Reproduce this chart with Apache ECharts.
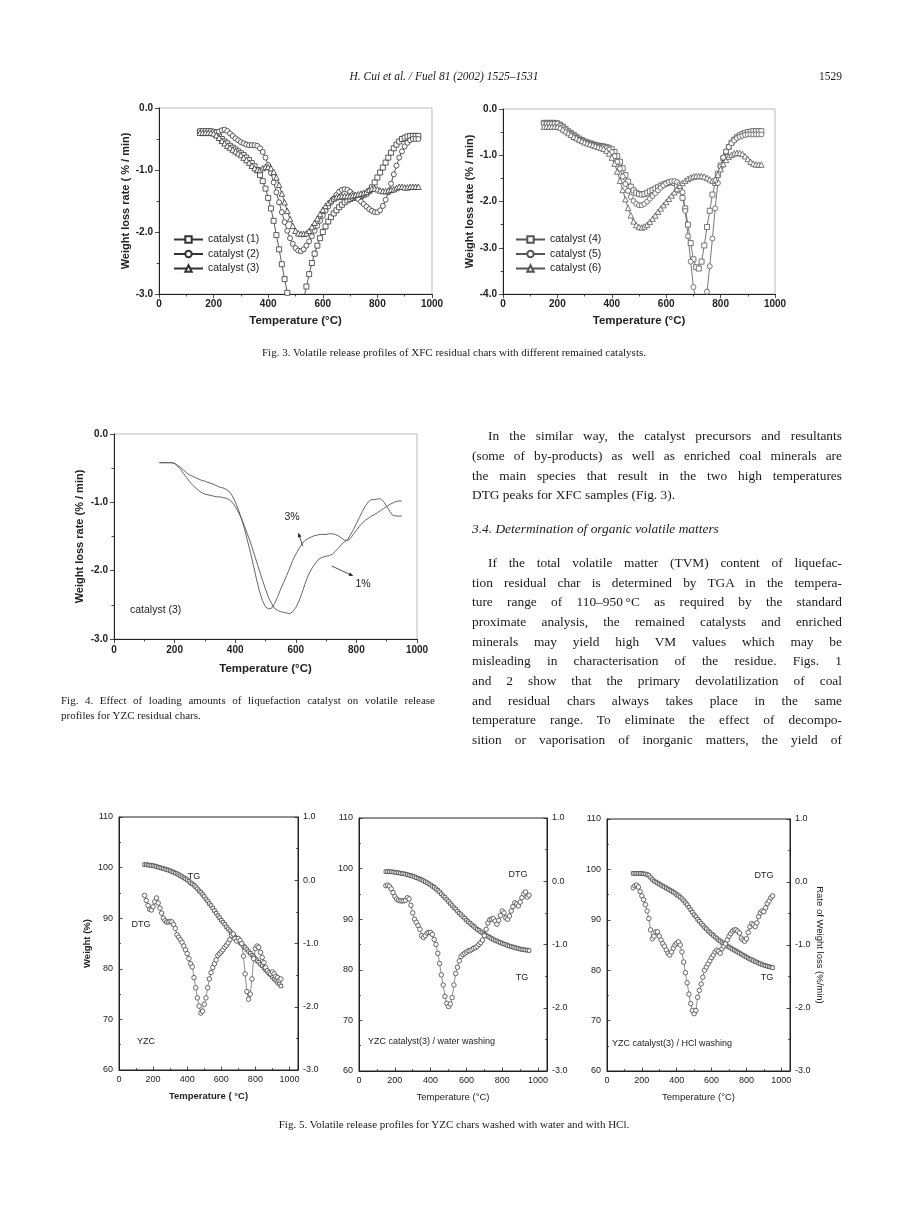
<!DOCTYPE html>
<html><head><meta charset="utf-8">
<script src="https://cdn.jsdelivr.net/npm/echarts@6/dist/echarts.min.js"></script>
<style>
html,body{margin:0;padding:0;background:#fff;}
#page{position:relative;width:920px;height:1228px;overflow:hidden;background:#fff;}
#chart{position:absolute;left:0;top:0;width:920px;height:1228px;}
.tx{position:absolute;font-family:"Liberation Serif","Times New Roman",serif;color:#1a1a1a;white-space:nowrap;}
.body{font-size:13.4px;line-height:20px;height:20px;left:472px;width:370px;}
.jl{text-align:justify;text-align-last:justify;}
.ind{text-indent:16px;}
.it{font-style:italic;}
.cap{font-size:11px;line-height:15px;height:15px;}
</style></head>
<body><div id="page"><div id="chart"></div><div id="txt"></div></div>
<script>
// ---------------- DATA ----------------
const T = [150,160,170,180,190,200,210,220,230,240,250,260,270,280,290,300,310,320,330,340,350,360,370,380,390,400,410,420,430,440,450,460,470,480,490,500,510,520,530,540,550,560,570,580,590,600,610,620,630,640,650,660,670,680,690,700,710,720,730,740,750,760,770,780,790,800,810,820,830,840,850,860,870,880,890,900,910,920,930,940,950];

// Fig. 3 (left) weight loss rate, %/min
const cat1 = [-0.38,-0.38,-0.38,-0.38,-0.38,
 -0.39,-0.42,-0.46,-0.50,-0.54,-0.57,-0.61,-0.64,-0.67,-0.70,
 -0.73,-0.76,-0.80,-0.84,-0.89,-0.94,-1.00,-1.08,-1.18,-1.30,
 -1.45,-1.62,-1.82,-2.05,-2.28,-2.52,-2.76,-2.98,-3.20,-3.38,
 -3.48,-3.45,-3.32,-3.08,-2.88,-2.68,-2.50,-2.35,-2.22,-2.10,
 -2.00,-1.91,-1.83,-1.76,-1.70,-1.65,-1.60,-1.56,-1.52,-1.49,
 -1.47,-1.45,-1.44,-1.43,-1.42,-1.40,-1.38,-1.34,-1.28,-1.20,
 -1.12,-1.04,-0.96,-0.88,-0.80,-0.72,-0.65,-0.59,-0.54,-0.50,
 -0.48,-0.46,-0.45,-0.45,-0.45,-0.45];
const cat2 = [-0.37,-0.37,-0.37,-0.37,-0.37,
 -0.38,-0.39,-0.38,-0.36,-0.35,-0.37,-0.41,-0.45,-0.49,-0.52,
 -0.55,-0.57,-0.59,-0.60,-0.60,-0.60,-0.61,-0.65,-0.71,-0.80,
 -0.92,-1.05,-1.20,-1.36,-1.52,-1.68,-1.84,-1.98,-2.10,-2.19,
 -2.26,-2.30,-2.31,-2.28,-2.22,-2.15,-2.07,-1.98,-1.90,-1.82,
 -1.74,-1.66,-1.59,-1.52,-1.46,-1.40,-1.35,-1.32,-1.31,-1.32,
 -1.35,-1.39,-1.43,-1.47,-1.51,-1.55,-1.59,-1.63,-1.66,-1.68,
 -1.68,-1.65,-1.58,-1.48,-1.36,-1.22,-1.07,-0.93,-0.80,-0.70,
 -0.62,-0.56,-0.52,-0.50,-0.50,-0.50];
const cat3 = [-0.40,-0.40,-0.40,-0.40,-0.40,
 -0.41,-0.44,-0.48,-0.53,-0.57,-0.61,-0.64,-0.67,-0.70,-0.73,
 -0.76,-0.80,-0.84,-0.88,-0.93,-0.97,-1.00,-1.00,-0.97,-0.95,
 -0.95,-0.97,-1.03,-1.12,-1.24,-1.38,-1.52,-1.66,-1.79,-1.90,
 -1.98,-2.02,-2.03,-2.03,-2.02,-1.98,-1.92,-1.85,-1.78,-1.71,
 -1.64,-1.58,-1.53,-1.49,-1.46,-1.44,-1.43,-1.42,-1.42,-1.42,
 -1.42,-1.41,-1.40,-1.39,-1.38,-1.37,-1.35,-1.32,-1.30,-1.30,
 -1.31,-1.33,-1.34,-1.34,-1.33,-1.32,-1.31,-1.29,-1.27,-1.27,
 -1.28,-1.28,-1.27,-1.27,-1.27,-1.27];
// Fig. 3 (right)
const cat4 = [-0.30,-0.30,-0.30,-0.30,-0.30,
 -0.31,-0.34,-0.38,-0.43,-0.48,-0.52,-0.56,-0.60,-0.64,-0.67,
 -0.70,-0.72,-0.74,-0.76,-0.78,-0.79,-0.80,-0.81,-0.82,-0.84,
 -0.87,-0.93,-1.02,-1.14,-1.28,-1.43,-1.57,-1.68,-1.76,-1.81,
 -1.84,-1.85,-1.84,-1.81,-1.78,-1.75,-1.72,-1.69,-1.66,-1.63,
 -1.61,-1.59,-1.58,-1.60,-1.66,-1.76,-1.92,-2.15,-2.50,-2.90,
 -3.25,-3.42,-3.45,-3.30,-2.95,-2.55,-2.20,-1.85,-1.60,-1.40,
 -1.22,-1.06,-0.93,-0.82,-0.73,-0.66,-0.61,-0.57,-0.54,-0.52,
 -0.50,-0.49,-0.48,-0.48,-0.48,-0.48];
const cat5 = [-0.32,-0.32,-0.32,-0.32,-0.32,
 -0.32,-0.36,-0.40,-0.45,-0.50,-0.54,-0.58,-0.62,-0.66,-0.69,
 -0.72,-0.74,-0.76,-0.78,-0.80,-0.81,-0.82,-0.83,-0.85,-0.88,
 -0.93,-1.02,-1.14,-1.29,-1.46,-1.62,-1.77,-1.90,-1.99,-2.05,
 -2.08,-2.08,-2.05,-2.00,-1.94,-1.88,-1.82,-1.76,-1.70,-1.65,
 -1.61,-1.58,-1.56,-1.56,-1.58,-1.63,-1.80,-2.20,-2.75,-3.30,
 -3.85,-4.15,-4.30,-4.35,-4.30,-3.95,-3.40,-2.80,-2.15,-1.60,
 -1.25,-1.05,-0.92,-0.82,-0.74,-0.68,-0.63,-0.60,-0.58,-0.56,
 -0.55,-0.55,-0.55,-0.55,-0.55,-0.55];
const cat6 = [-0.38,-0.38,-0.38,-0.38,-0.38,
 -0.38,-0.40,-0.44,-0.48,-0.52,-0.56,-0.60,-0.63,-0.66,-0.69,
 -0.72,-0.74,-0.76,-0.78,-0.80,-0.82,-0.84,-0.86,-0.90,-0.96,
 -1.05,-1.18,-1.35,-1.55,-1.75,-1.95,-2.14,-2.30,-2.43,-2.51,
 -2.55,-2.56,-2.54,-2.50,-2.44,-2.37,-2.30,-2.22,-2.15,-2.08,
 -2.01,-1.94,-1.87,-1.80,-1.73,-1.66,-1.60,-1.55,-1.51,-1.48,
 -1.46,-1.45,-1.45,-1.45,-1.46,-1.49,-1.52,-1.55,-1.52,-1.42,
 -1.30,-1.19,-1.10,-1.03,-0.99,-0.96,-0.95,-0.95,-0.97,-1.02,
 -1.08,-1.14,-1.18,-1.20,-1.20,-1.20];
// Fig. 4
const load3 = [-0.42,-0.42,-0.42,-0.42,-0.42,
 -0.43,-0.46,-0.49,-0.53,-0.57,-0.60,-0.62,-0.64,-0.66,-0.68,
 -0.69,-0.71,-0.72,-0.74,-0.76,-0.78,-0.79,-0.81,-0.84,-0.90,
 -0.99,-1.10,-1.23,-1.38,-1.55,-1.73,-1.92,-2.12,-2.30,-2.44,
 -2.53,-2.56,-2.55,-2.48,-2.38,-2.27,-2.17,-2.07,-1.96,-1.85,
 -1.76,-1.68,-1.61,-1.56,-1.53,-1.51,-1.49,-1.48,-1.47,-1.47,
 -1.47,-1.46,-1.46,-1.47,-1.49,-1.52,-1.55,-1.56,-1.53,-1.47,
 -1.41,-1.35,-1.30,-1.26,-1.23,-1.20,-1.18,-1.15,-1.12,-1.09,
 -1.06,-1.03,-1.01,-0.99,-0.98,-0.98];
const load1 = [-0.42,-0.42,-0.42,-0.42,-0.42,
 -0.43,-0.47,-0.52,-0.58,-0.64,-0.70,-0.75,-0.79,-0.83,-0.86,
 -0.88,-0.89,-0.90,-0.91,-0.92,-0.92,-0.93,-0.94,-0.96,-1.00,
 -1.06,-1.14,-1.23,-1.34,-1.46,-1.58,-1.72,-1.86,-2.00,-2.14,
 -2.27,-2.39,-2.48,-2.55,-2.58,-2.60,-2.61,-2.62,-2.63,-2.60,
 -2.54,-2.45,-2.33,-2.20,-2.08,-1.99,-1.92,-1.86,-1.82,-1.80,
 -1.79,-1.78,-1.76,-1.72,-1.67,-1.62,-1.58,-1.55,-1.48,-1.40,
 -1.31,-1.22,-1.13,-1.05,-0.99,-0.96,-0.96,-0.95,-0.95,-0.99,
 -1.06,-1.13,-1.19,-1.20,-1.20,-1.20];
// Fig. 5  TG (weight %) and DTG (%/min)
const tgYZC = [100.6,100.6,100.5,100.5,100.4,
 100.4,100.3,100.2,100.1,100.0,99.9,99.8,99.7,99.6,99.5,
 99.4,99.2,99.1,98.9,98.8,98.6,98.4,98.2,98.0,97.8,
 97.6,97.3,97.0,96.8,96.5,96.2,95.8,95.4,95.1,94.7,
 94.3,93.8,93.4,92.9,92.5,92.0,91.5,91.0,90.5,90.1,
 89.6,89.2,88.8,88.3,87.9,87.5,87.1,86.7,86.3,86.0,
 85.6,85.2,84.9,84.5,84.2,83.8,83.4,83.1,82.7,82.4,
 82.0,81.6,81.3,80.9,80.6,80.2,79.8,79.5,79.1,78.8,
 78.4,78.0,77.7,77.3,77.0,76.6];
const dtgYZC = [-0.24,-0.32,-0.40,-0.46,-0.47,
 -0.42,-0.34,-0.28,-0.36,-0.44,-0.52,-0.60,-0.64,-0.66,-0.66,
 -0.65,-0.66,-0.70,-0.76,-0.86,-0.90,-0.94,-0.98,-1.04,-1.10,
 -1.16,-1.24,-1.32,-1.37,-1.54,-1.70,-1.86,-1.99,-2.10,-2.07,
 -1.96,-1.86,-1.70,-1.56,-1.46,-1.38,-1.32,-1.26,-1.19,-1.16,
 -1.13,-1.10,-1.06,-1.03,-0.99,-0.94,-0.87,-0.85,-0.92,-0.96,
 -0.92,-0.95,-1.00,-1.20,-1.48,-1.76,-1.88,-1.80,-1.56,-1.24,
 -1.08,-1.04,-1.06,-1.14,-1.22,-1.30,-1.38,-1.43,-1.46,-1.48,
 -1.45,-1.48,-1.52,-1.54,-1.58,-1.56];
const tgWater = [99.4,99.4,99.4,99.4,99.3,
 99.3,99.2,99.2,99.1,99.0,99.0,98.9,98.8,98.7,98.6,
 98.5,98.4,98.2,98.1,97.9,97.8,97.6,97.4,97.2,97.0,
 96.8,96.5,96.3,96.0,95.7,95.4,95.0,94.6,94.3,93.9,
 93.5,93.1,92.7,92.3,92.0,91.6,91.2,90.9,90.5,90.2,
 89.8,89.5,89.2,88.9,88.6,88.3,88.0,87.8,87.5,87.3,
 87.0,86.8,86.6,86.4,86.2,86.0,85.8,85.7,85.5,85.4,
 85.2,85.1,85.0,84.8,84.7,84.6,84.5,84.4,84.3,84.2,
 84.1,84.0,84.0,83.9,83.9,83.8];
const dtgWater = [-0.07,-0.06,-0.08,-0.12,-0.18,
 -0.24,-0.28,-0.30,-0.31,-0.31,-0.31,-0.30,-0.26,-0.28,-0.38,
 -0.50,-0.60,-0.65,-0.70,-0.76,-0.86,-0.89,-0.86,-0.82,-0.81,
 -0.81,-0.84,-0.92,-1.00,-1.14,-1.30,-1.48,-1.64,-1.82,-1.93,
 -1.98,-1.94,-1.84,-1.64,-1.46,-1.36,-1.26,-1.19,-1.16,-1.14,
 -1.12,-1.10,-1.10,-1.08,-1.06,-1.05,-1.03,-1.00,-0.97,-0.93,
 -0.86,-0.76,-0.66,-0.61,-0.60,-0.59,-0.63,-0.68,-0.62,-0.54,
 -0.47,-0.50,-0.58,-0.60,-0.55,-0.47,-0.40,-0.34,-0.36,-0.39,
 -0.33,-0.26,-0.20,-0.17,-0.25,-0.22];
const tgHCl = [99.2,99.2,99.2,99.2,99.2,
 99.2,99.1,99.1,99.0,98.8,98.4,98.0,97.7,97.5,97.3,
 97.1,96.9,96.7,96.5,96.3,96.1,95.9,95.7,95.5,95.3,
 95.0,94.8,94.5,94.2,93.8,93.4,93.0,92.5,92.0,91.5,
 91.0,90.6,90.1,89.7,89.3,88.9,88.5,88.2,87.8,87.5,
 87.2,86.9,86.6,86.3,86.0,85.8,85.5,85.3,85.0,84.8,
 84.6,84.4,84.2,84.0,83.8,83.6,83.4,83.2,83.0,82.8,
 82.6,82.4,82.2,82.1,81.9,81.7,81.6,81.4,81.3,81.1,
 81.0,80.9,80.8,80.7,80.6,80.5];
const dtgHCl = [-0.09,-0.06,-0.05,-0.08,-0.15,
 -0.22,-0.28,-0.36,-0.46,-0.58,-0.76,-0.90,-0.86,-0.79,-0.79,
 -0.86,-0.92,-0.98,-1.02,-1.08,-1.13,-1.16,-1.11,-1.05,-1.00,
 -0.97,-0.95,-1.00,-1.11,-1.27,-1.44,-1.60,-1.78,-1.93,-2.04,
 -2.09,-2.04,-1.83,-1.72,-1.62,-1.51,-1.40,-1.35,-1.30,-1.25,
 -1.20,-1.16,-1.11,-1.08,-1.10,-1.13,-1.06,-1.02,-0.98,-0.92,
 -0.86,-0.82,-0.78,-0.76,-0.76,-0.78,-0.81,-0.89,-0.92,-0.94,
 -0.90,-0.80,-0.71,-0.66,-0.68,-0.71,-0.65,-0.55,-0.49,-0.46,
 -0.47,-0.41,-0.34,-0.30,-0.25,-0.22];

// ---------------- TEXT ----------------
const SERIF_LINES = [
 {t:'H. Cui et al. / Fuel 81 (2002) 1525–1531', cls:'it', y:76, x:444, fs:11.5, center:true},
 {t:'1529', y:76, right:842, fs:11.5},
 {t:'Fig. 3. Volatile release profiles of XFC residual chars with different remained catalysts.', y:352, x:454, fs:11, center:true},
 {t:'Fig. 5. Volatile release profiles for YZC chars washed with water and with HCl.', y:1124, x:454, fs:11, center:true}
];
const para1 = ['In the similar way, the catalyst precursors and resultants',
 '(some of by-products) as well as enriched coal minerals are',
 'the main species that result in the two high temperatures',
 'DTG peaks for XFC samples (Fig. 3).'];
const para1Y = [436,456,476,495];
const heading = '3.4. Determination of organic volatile matters';
const para2 = ['If the total volatile matter (TVM) content of liquefac-',
 'tion residual char is determined by TGA in the tempera-',
 'ture range of 110–950\u2009°C as required by the standard',
 'proximate analysis, the remained catalysts and enriched',
 'minerals may yield high VM values which may be',
 'misleading in characterisation of the residue. Figs. 1',
 'and 2 show that the primary devolatilization of coal',
 'and residual chars always takes place in the same',
 'temperature range. To eliminate the effect of decompo-',
 'sition or vaporisation of inorganic matters, the yield of'];
const para2Y = [563,583,602,622,642,661,681,701,720,740];
const fig4Cap = ['Fig. 4. Effect of loading amounts of liquefaction catalyst on volatile release',
 'profiles for YZC residual chars.'];
const fig4CapY = [700,715];

const txt = document.getElementById('txt');
function addDiv(html, cls, style){ const d=document.createElement('div'); d.className='tx '+(cls||''); d.textContent=html; Object.assign(d.style, style); txt.appendChild(d); return d; }
SERIF_LINES.forEach(l=>{
  const st={fontSize:l.fs+'px', lineHeight:'16px', top:(l.y-8)+'px'};
  if(l.center){ st.left=(l.x-300)+'px'; st.width='600px'; st.textAlign='center'; }
  else if(l.right){ st.left=(l.right-100)+'px'; st.width='100px'; st.textAlign='right'; }
  addDiv(l.t, l.cls, st);
});
para1.forEach((s,i)=>addDiv(s, 'body '+(i<para1.length-1?'jl ':'')+(i===0?'ind':''), {top:(para1Y[i]-10)+'px'}));
addDiv(heading, 'body it', {top:(529-10)+'px'});
para2.forEach((s,i)=>addDiv(s, 'body jl '+(i===0?'ind':''), {top:(para2Y[i]-10)+'px'}));
fig4Cap.forEach((s,i)=>addDiv(s, 'cap '+(i===0?'jl':''), {top:(fig4CapY[i]-7.5)+'px', left:'61px', width:'374px'}));

// ---------------- CHART ----------------
const SANS='"Liberation Sans", Arial, Helvetica, sans-serif';
const INK='#222';
const pair=(ys)=>T.map((x,i)=>[x,ys[i]]);
const fmt1=v=>v.toFixed(1);

function axX3(g, gap, margin){
  return {gridIndex:g,type:'value',min:0,max:1000,interval:200,
    name:'Temperature (°C)',nameLocation:'middle',nameGap:gap,
    nameTextStyle:{fontFamily:SANS,fontWeight:'bold',fontSize:11.5,color:INK},
    axisLine:{onZero:false,lineStyle:{color:INK,width:1}},
    axisTick:{length:4,lineStyle:{color:INK,width:0.8}},
    minorTick:{show:true,splitNumber:2,length:2.5,lineStyle:{color:INK,width:0.8}},
    axisLabel:{fontFamily:SANS,fontWeight:'bold',fontSize:10,color:INK,margin:margin,formatter:v=>String(v)},
    splitLine:{show:false}};
}
function axY3(g, min, name, gap){
  return {gridIndex:g,type:'value',min:min,max:0,interval:1,
    name:name,nameLocation:'middle',nameGap:gap,
    nameTextStyle:{fontFamily:SANS,fontWeight:'bold',fontSize:11,color:INK},
    axisLine:{onZero:false,lineStyle:{color:INK,width:1}},
    axisTick:{length:4,lineStyle:{color:INK,width:0.8}},
    minorTick:{show:true,splitNumber:2,length:2.5,lineStyle:{color:INK,width:0.8}},
    axisLabel:{fontFamily:SANS,fontWeight:'bold',fontSize:10,color:INK,margin:6,formatter:fmt1},
    splitLine:{show:false}};
}
function axX5(g, bold){
  return {gridIndex:g,type:'value',min:0,max:1050,interval:200,
    name: bold?'Temperature ( °C)':'Temperature (°C)',nameLocation:'middle',nameGap:21,
    nameTextStyle:{fontFamily:SANS,fontWeight:bold?'bold':'normal',fontSize:9.5,color:INK},
    axisLine:{onZero:false,lineStyle:{color:INK,width:1}},
    axisTick:{inside:true,length:3.5,lineStyle:{color:INK,width:0.8}},
    minorTick:{show:true,splitNumber:2,length:2,lineStyle:{color:INK,width:0.7}},
    axisLabel:{fontFamily:SANS,fontSize:9,color:INK,margin:5,formatter:v=>(v%200===0?String(v):'')},
    splitLine:{show:false}};
}
function axYL5(g, name){
  return {gridIndex:g,type:'value',min:60,max:110,interval:10,position:'left',
    name:name||'',nameLocation:'middle',nameGap:27,
    nameTextStyle:{fontFamily:SANS,fontWeight:'bold',fontSize:9.5,color:INK},
    axisLine:{onZero:false,lineStyle:{color:INK,width:1}},
    axisTick:{inside:true,length:3.5,lineStyle:{color:INK,width:0.8}},
    minorTick:{show:true,splitNumber:2,length:2,lineStyle:{color:INK,width:0.7}},
    axisLabel:{fontFamily:SANS,fontSize:9,color:INK,margin:6},
    splitLine:{show:false}};
}
function axYR5(g, name){
  return {gridIndex:g,type:'value',min:-3,max:1,interval:1,position:'right',
    name:name||'',nameLocation:'middle',nameGap:24,nameRotate:-90,
    nameTextStyle:{fontFamily:SANS,fontSize:9.5,color:INK},
    axisLine:{onZero:false,lineStyle:{color:INK,width:1}},
    axisTick:{inside:true,length:3.5,lineStyle:{color:INK,width:0.8}},
    minorTick:{show:true,splitNumber:2,length:2,lineStyle:{color:INK,width:0.7}},
    axisLabel:{fontFamily:SANS,fontSize:9,color:INK,margin:5,formatter:fmt1},
    splitLine:{show:false}};
}
function mk(name, ys, xi, yi, sym, col, size, lw){
  return {name:name,type:'line',xAxisIndex:xi,yAxisIndex:yi,data:pair(ys),
    symbol:sym,symbolSize:size,showSymbol:true,clip:true,
    lineStyle:{color:col,width:lw},
    itemStyle:{color:'#fff',borderColor:col,borderWidth:0.8},
    emphasis:{disabled:true},z:3};
}
function ln(name, ys, xi, yi){
  return {name:name,type:'line',xAxisIndex:xi,yAxisIndex:yi,data:pair(ys),
    symbol:'none',clip:true,lineStyle:{color:'#555',width:0.9},emphasis:{disabled:true}};
}
function arrow(x1,y1,x2,y2){
  const dx=x2-x1, dy=y2-y1, L=Math.hypot(dx,dy), ux=dx/L, uy=dy/L, h=4.5, w=1.9;
  const bx=x2-ux*h, by=y2-uy*h;
  return [
    {type:'line',shape:{x1:x1,y1:y1,x2:bx,y2:by},style:{stroke:INK,lineWidth:0.8}},
    {type:'polygon',shape:{points:[[x2,y2],[bx-uy*w,by+ux*w],[bx+uy*w,by-ux*w]]},style:{fill:INK}}
  ];
}
function lbl(text,x,y,size,align,weight){
  return {type:'text',x:x,y:y,style:{text:text,fontFamily:SANS,fontSize:size,fontWeight:weight||'normal',fill:INK,align:align||'left',verticalAlign:'middle'}};
}

const legendBase={orient:'vertical',itemWidth:29,itemHeight:8,itemGap:3.5,padding:0,selectedMode:false,
  textStyle:{fontFamily:SANS,fontSize:10.5,color:INK}};

const option={
  animation:false,
  backgroundColor:'transparent',
  grid:[
    {left:159,top:108,width:273,height:186,show:true,borderColor:'#aaa',borderWidth:0.8,backgroundColor:'transparent'},
    {left:503,top:109,width:272,height:185,show:true,borderColor:'#aaa',borderWidth:0.8,backgroundColor:'transparent'},
    {left:114,top:434,width:303,height:205,show:true,borderColor:'#aaa',borderWidth:0.8,backgroundColor:'transparent'},
    {left:119,top:817,width:179,height:253,show:true,borderColor:INK,borderWidth:1,backgroundColor:'transparent'},
    {left:359,top:818,width:188,height:253,show:true,borderColor:INK,borderWidth:1,backgroundColor:'transparent'},
    {left:607,top:819,width:183,height:252,show:true,borderColor:INK,borderWidth:1,backgroundColor:'transparent'}
  ],
  xAxis:[axX3(0,21,5),axX3(1,21,5),axX3(2,24,6),axX5(3,true),axX5(4,false),axX5(5,false)],
  yAxis:[
    axY3(0,-3,'Weight loss rate ( % / min)',26),
    axY3(1,-4,'Weight loss rate (% / min)',26),
    axY3(2,-3,'Weight loss rate (% / min)',29),
    axYL5(3,'Weight (%)'), axYR5(3,''),
    axYL5(4,''), axYR5(4,''),
    axYL5(5,''), axYR5(5,'Rate of Weight loss (%/min)')
  ],
  legend:[
    Object.assign({},legendBase,{left:173,top:234,data:['catalyst (1)','catalyst (2)','catalyst (3)']}),
    Object.assign({},legendBase,{left:515,top:234,data:['catalyst (4)','catalyst (5)','catalyst (6)']})
  ],
  series:[
    mk('catalyst (1)',cat1,0,0,'rect','#333',5,0.8),
    mk('catalyst (2)',cat2,0,0,'circle','#333',5,0.8),
    mk('catalyst (3)',cat3,0,0,'triangle','#333',5.5,0.8),
    mk('catalyst (4)',cat4,1,1,'rect','#555',5,0.8),
    mk('catalyst (5)',cat5,1,1,'circle','#555',5,0.8),
    mk('catalyst (6)',cat6,1,1,'triangle','#555',5.5,0.8),
    ln('3%',load3,2,2),
    ln('1%',load1,2,2),
    mk('TG YZC',tgYZC,3,3,'rect','#444',3.5,0.6),
    mk('DTG YZC',dtgYZC,3,4,'circle','#444',4.5,0.6),
    mk('TG water',tgWater,4,5,'rect','#444',3.5,0.6),
    mk('DTG water',dtgWater,4,6,'circle','#444',4.5,0.6),
    mk('TG HCl',tgHCl,5,7,'rect','#444',3.5,0.6),
    mk('DTG HCl',dtgHCl,5,8,'circle','#444',4.5,0.6)
  ],
  graphic:[
    lbl('3%',292,517,10.5,'center'),
    ...arrow(302.7,546,298.3,532.7),
    lbl('1%',363,584,10.5,'center'),
    ...arrow(331.7,566,353.3,576),
    lbl('catalyst (3)',130,610,10.5,'left'),
    lbl('TG',194,877,9,'center'),
    lbl('DTG',141,925,9,'center'),
    lbl('YZC',146,1042,9,'center'),
    lbl('DTG',518,875,9,'center'),
    lbl('TG',522,978,9,'center'),
    lbl('YZC catalyst(3) / water washing',368,1042,9,'left'),
    lbl('DTG',764,876,9,'center'),
    lbl('TG',767,978,9,'center'),
    lbl('YZC catalyst(3) / HCl washing',612,1044,9,'left')
  ]
};
const chart=echarts.init(document.getElementById('chart'),null,{renderer:'canvas'});
chart.setOption(option);
</script></body></html>
